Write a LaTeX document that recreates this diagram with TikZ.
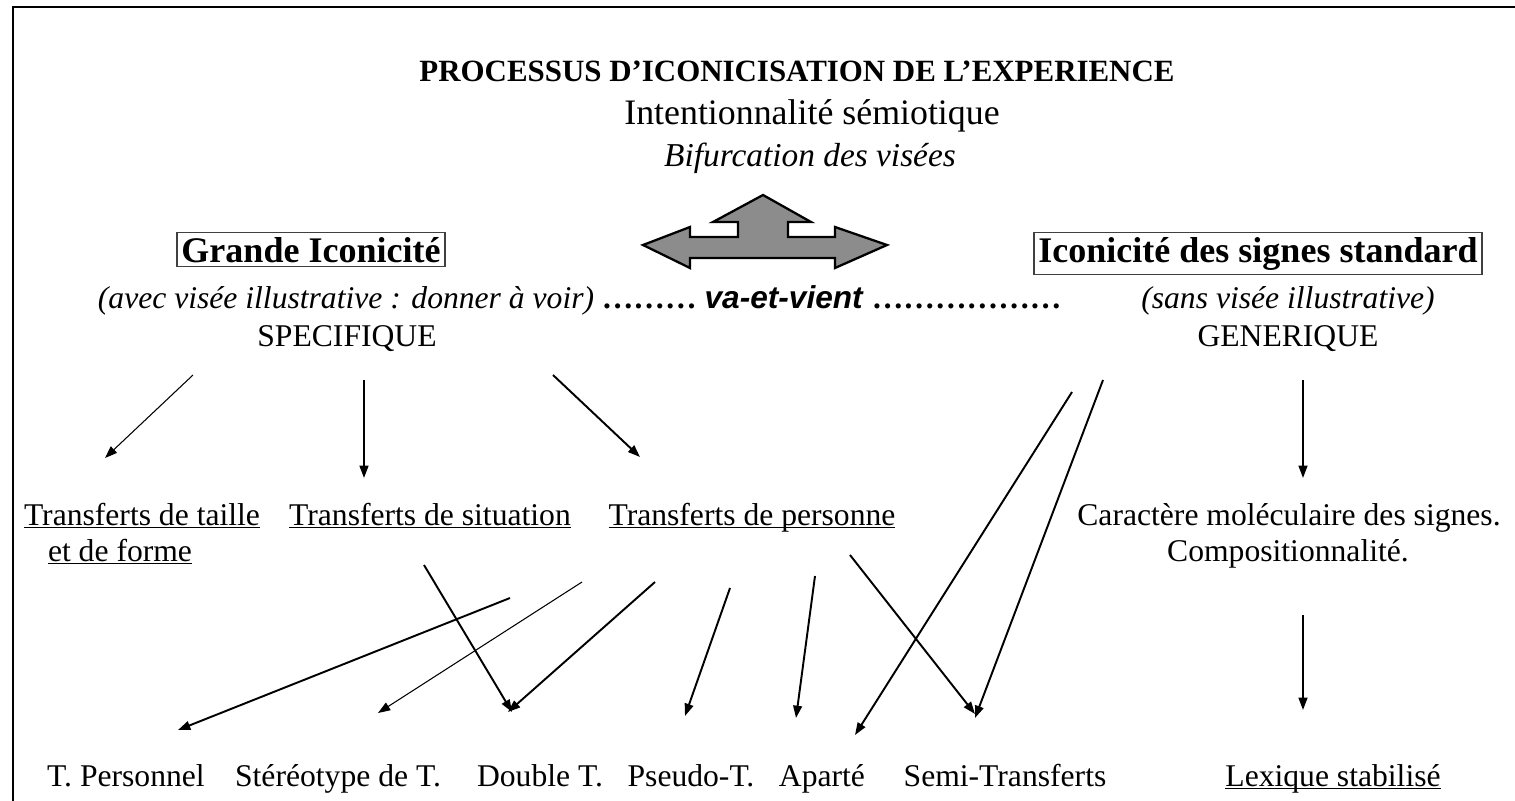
\documentclass[tikz,border=0pt]{standalone}
\usepackage{fontspec}
\setmainfont{Liberation Serif}
\setsansfont{Liberation Sans}
\usetikzlibrary{arrows.meta,positioning}
\newcommand\souligne[1]{\underline{\smash{#1}}}

\begin{document}
\begin{tikzpicture}[x=0.02cm,y=-0.02cm,
   every node/.style={font=\fontsize{18}{21}\selectfont,inner sep=1pt,anchor=base},
   titre/.style={font=\fontsize{17.6}{21}\selectfont\bfseries},
   pole/.style={draw=black!75,line width=0.8pt,inner sep=2.5pt,
      font=\fontsize{20.5}{23}\selectfont\bfseries},
   visee/.style={font=\fontsize{18}{21}\selectfont\itshape},
   fl/.style={-{Triangle[length=7pt,width=5pt]},line width=1.1pt},
   fin/.style={fl,line width=0.6pt}]
\useasboundingbox (0,0) rectangle (1515,801);
\draw[line width=1.7pt] (13,801) -- (13,7) -- (1515,7);

% en-tete
\node[titre] (titre) at (797,81) {PROCESSUS D’ICONICISATION DE L’EXPERIENCE};
\node[font=\fontsize{20.4}{23}\selectfont] (intention) at (812,124) {Intentionnalité sémiotique};
\node[visee,font=\fontsize{19}{21}\selectfont\itshape] (bifurcation) at (810,166) {Bifurcation des visées};

% fleche du va-et-vient
\draw[fill=black!45,line width=1.3pt,line join=miter]
  (643,245) -- (690,227) -- (690,237) -- (738,237) -- (738,222) -- (713,222)
  -- (763,195) -- (811,222) -- (788,222) -- (788,237) -- (835,237) -- (835,227)
  -- (887,245) -- (835,268) -- (835,258) -- (690,258) -- (690,268) -- cycle;

% les deux poles
\node[pole] (grande) at (311,262) {Grande Iconicité};
\node[pole] (standard) at (1258,262) {Iconicité des signes standard};
\node[visee] (avec) at (346,308) {(avec visée illustrative : donner à voir)};
\node[right=2pt of avec.base east,anchor=base west,font=\fontsize{18}{21}\selectfont\bfseries] (vaetvient)
  {……… \textsf{\itshape va-et-vient} ………………};
\node[visee] (sans) at (1288,308) {(sans visée illustrative)};
\node (specifique) at (347,346) {SPECIFIQUE};
\node (generique) at (1288,346) {GENERIQUE};

% niveau des transferts
\node (taille) at (142,525) {\souligne{Transferts de taille}};
\node (forme) at (120,561) {\souligne{et de forme}};
\node (situation) at (430,525) {\souligne{Transferts de situation}};
\node (personne) at (752,525) {\souligne{Transferts de personne}};
\node (molec) at (1289,525) {Caractère moléculaire des signes.};
\node (compo) at (1288,561) {Compositionnalité.};

% niveau du bas
\node (tperso) at (126,786) {T. Personnel};
\node (stereo) at (338,786) {Stéréotype de T.};
\node (double) at (540,786) {Double T.};
\node (pseudo) at (691,786) {Pseudo-T.};
\node (aparte) at (822,786) {Aparté};
\node (semi) at (1005,786) {Semi-Transferts};
\node (lexique) at (1333,786) {\souligne{Lexique stabilisé}};

% points de depart et d'arrivee des fleches
\coordinate (sp1) at (193,375);  \coordinate (ta1) at (105,458);
\coordinate (sp2) at (364,380);  \coordinate (si1) at (364,478);
\coordinate (sp3) at (553,375);  \coordinate (pe1) at (640,457);
\coordinate (ge1) at (1303,380); \coordinate (mo1) at (1303,478);
\coordinate (ge2) at (1072,392); \coordinate (ap2) at (855,735);
\coordinate (ge3) at (1103,380); \coordinate (se2) at (975,718);
\coordinate (pe2) at (510,598);  \coordinate (tp1) at (178,730);
\coordinate (pe3) at (582,582);  \coordinate (st1) at (378,713);
\coordinate (pe4) at (655,582);  \coordinate (do1) at (508,712);
\coordinate (si2) at (424,565);  \coordinate (do2) at (512,712);
\coordinate (pe5) at (730,588);  \coordinate (ps1) at (685,716);
\coordinate (pe6) at (815,576);  \coordinate (ap1) at (796,718);
\coordinate (pe7) at (850,555);  \coordinate (se1) at (975,714);
\coordinate (co1) at (1303,615); \coordinate (le1) at (1303,710);

\draw[fin] (sp1) -- (ta1);
\draw[fl] (sp2) -- (si1);
\draw[fl] (sp3) -- (pe1);
\draw[fl] (ge1) -- (mo1);
\draw[fl] (ge2) -- (ap2);
\draw[fl] (ge3) -- (se2);
\draw[fl] (pe2) -- (tp1);
\draw[fin] (pe3) -- (st1);
\draw[fl] (pe4) -- (do1);
\draw[fl] (si2) -- (do2);
\draw[fl] (pe5) -- (ps1);
\draw[fl] (pe6) -- (ap1);
\draw[fl] (pe7) -- (se1);
\draw[fl] (co1) -- (le1);
\end{tikzpicture}
\end{document}
